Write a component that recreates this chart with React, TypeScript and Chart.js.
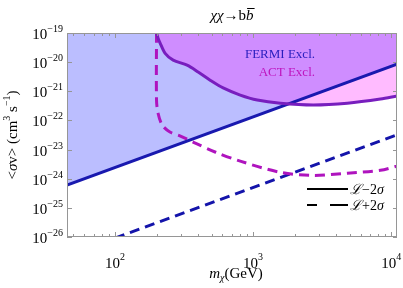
import React, { useEffect, useRef } from 'react';
import { Chart, registerables } from 'chart.js';

Chart.register(...registerables);

// ---- data (mass in GeV, <σv> in cm^3 s^-1) ----
const fermiMass = [45, 11000];
const fermiMinus = [6.0e-25, 8.5e-21];
const fermiPlusMass = [100, 11000];
const fermiPlus = [9.2e-27, 3.2e-23];

const actMass = [200, 205, 212, 231, 264, 333, 400, 489, 607, 807, 1072, 1572, 2728, 4810, 8340, 11000];
const actMinus = [1e-19, 6.8e-20, 4.6e-20, 2.0e-20, 1.17e-20, 7.9e-21, 4.6e-21, 2.4e-21, 1.3e-21, 7.4e-22, 5.0e-22, 3.9e-22, 3.4e-22, 3.9e-22, 5.4e-22, 6.9e-22];

const actPlusMass = [200, 200, 205, 220, 250, 298, 382, 536, 807, 1572, 2728, 4810, 8340, 11000];
const actPlus = [1e-19, 5.0e-22, 1.8e-22, 6.9e-23, 4.0e-23, 2.9e-23, 1.66e-23, 8.1e-24, 4.0e-24, 1.66e-24, 1.3e-24, 1.55e-24, 1.95e-24, 2.7e-24];

const xMajor = [100, 1000, 10000];
const xMajorExp = ['2', '3', '4'];
const yExps = [-26, -25, -24, -23, -22, -21, -20, -19];

const X_MIN = 45;
const X_MAX = 11000;
const Y_MIN = 1e-26;
const Y_MAX = 1e-19;

const SERIF = '"Liberation Serif", "DejaVu Serif", serif';

type Part = { t: string; font: string; dy?: number; color?: string };

function drawRich(ctx: CanvasRenderingContext2D, parts: Part[], x: number, y: number, align: 'left' | 'center' | 'right') {
  let w = 0;
  for (const p of parts) {
    ctx.font = p.font;
    w += ctx.measureText(p.t).width;
  }
  let cx = align === 'left' ? x : align === 'center' ? x - w / 2 : x - w;
  const spans: { x0: number; x1: number }[] = [];
  for (const p of parts) {
    ctx.font = p.font;
    ctx.textAlign = 'left';
    ctx.textBaseline = 'alphabetic';
    const pw = ctx.measureText(p.t).width;
    ctx.fillText(p.t, cx, y + (p.dy || 0));
    spans.push({ x0: cx, x1: cx + pw });
    cx += pw;
  }
  return spans;
}

const decorPlugin = {
  id: 'decor',
  afterDatasetsDraw(chart: any) {
    const ctx: CanvasRenderingContext2D = chart.ctx;
    const { left, right, top, bottom } = chart.chartArea;
    const xs = chart.scales.x;
    const ys = chart.scales.y;
    ctx.save();
    ctx.strokeStyle = 'rgb(150,150,150)';
    ctx.lineWidth = 1;
    ctx.strokeRect(left + 0.5, top + 0.5, right - left - 1, bottom - top - 1);
    // x ticks (bottom & top)
    ctx.beginPath();
    for (let dec = 10; dec <= 10000; dec *= 10) {
      for (let k = 1; k <= 9; k++) {
        const v = dec * k;
        if (v < X_MIN || v > X_MAX) continue;
        const px = Math.round(xs.getPixelForValue(v)) + 0.5;
        const len = k === 1 ? 5 : 3;
        ctx.moveTo(px, bottom);
        ctx.lineTo(px, bottom - len);
        ctx.moveTo(px, top);
        ctx.lineTo(px, top + len);
      }
    }
    for (const e of yExps) {
      const py = Math.round(ys.getPixelForValue(Math.pow(10, e))) + 0.5;
      ctx.moveTo(left, py);
      ctx.lineTo(left + 5, py);
      ctx.moveTo(right, py);
      ctx.lineTo(right - 4, py);
    }
    ctx.stroke();

    ctx.fillStyle = '#000';
    // y tick labels
    for (const e of yExps) {
      const py = ys.getPixelForValue(Math.pow(10, e));
      drawRich(ctx, [
        { t: '10', font: `15px ${SERIF}` },
        { t: '\u2212' + String(-e), font: `10px ${SERIF}`, dy: -7 },
      ], left - 4, py + 6, 'right');
    }
    // x tick labels
    xMajor.forEach((v, i) => {
      const px = xs.getPixelForValue(v);
      drawRich(ctx, [
        { t: '10', font: `15px ${SERIF}` },
        { t: xMajorExp[i], font: `10px ${SERIF}`, dy: -8 },
      ], px, bottom + 31, 'center');
    });
    // x axis title
    drawRich(ctx, [
      { t: 'm', font: `italic 15px ${SERIF}` },
      { t: '\u03c7', font: `italic 10px ${SERIF}`, dy: 3 },
      { t: '(GeV)', font: `15px ${SERIF}` },
    ], (left + right) / 2 + 4, bottom + 41, 'center');
    // y axis title
    ctx.save();
    ctx.translate(17, (top + bottom) / 2);
    ctx.rotate(-Math.PI / 2);
    drawRich(ctx, [
      { t: '<', font: `15px ${SERIF}` },
      { t: '\u03c3', font: `italic 15px ${SERIF}` },
      { t: 'v> (cm', font: `15px ${SERIF}` },
      { t: '3', font: `10px ${SERIF}`, dy: -7 },
      { t: ' s', font: `15px ${SERIF}` },
      { t: '\u22121', font: `10px ${SERIF}`, dy: -7 },
      { t: ')', font: `15px ${SERIF}` },
    ], 0, 0, 'center');
    ctx.restore();
    // title
    const sp = drawRich(ctx, [
      { t: '\u03c7\u03c7', font: `italic 15px ${SERIF}` },
      { t: '\u2192b', font: `15px ${SERIF}` },
      { t: 'b', font: `italic 15px ${SERIF}` },
    ], (left + right) / 2, 20, 'center');
    const bb = sp[2];
    ctx.beginPath();
    ctx.strokeStyle = '#000';
    ctx.lineWidth = 1;
    ctx.moveTo(bb.x0 + 1, 8.5);
    ctx.lineTo(bb.x1 + 1, 8.5);
    ctx.stroke();

    // region labels
    ctx.fillStyle = 'rgb(40,30,190)';
    drawRich(ctx, [{ t: 'FERMI Excl.', font: `13px ${SERIF}` }], 315, 58, 'right');
    ctx.fillStyle = 'rgb(190,20,190)';
    drawRich(ctx, [{ t: 'ACT Excl.', font: `13px ${SERIF}` }], 315, 76, 'right');

    // legend
    ctx.strokeStyle = '#000';
    ctx.lineWidth = 2;
    ctx.beginPath();
    ctx.moveTo(307, 189);
    ctx.lineTo(348, 189);
    ctx.stroke();
    ctx.setLineDash([10, 13, 18, 13]);
    ctx.beginPath();
    ctx.moveTo(307, 205);
    ctx.lineTo(348, 205);
    ctx.stroke();
    ctx.setLineDash([]);
    ctx.fillStyle = '#000';
    drawRich(ctx, [
      { t: '\u2112', font: `italic 14px ${SERIF}` },
      { t: '\u22122', font: `14px ${SERIF}` },
      { t: '\u03c3', font: `italic 14px ${SERIF}` },
    ], 350, 194, 'left');
    drawRich(ctx, [
      { t: '\u2112', font: `italic 14px ${SERIF}` },
      { t: '+2', font: `14px ${SERIF}` },
      { t: '\u03c3', font: `italic 14px ${SERIF}` },
    ], 350, 210, 'left');
    ctx.restore();
  },
};

function pts(xs: number[], ys: number[]) {
  return xs.map((x, i) => ({ x, y: ys[i] }));
}

export default function App() {
  const ref = useRef<HTMLCanvasElement>(null);
  useEffect(() => {
    const canvas = ref.current!;
    const chart = new Chart(canvas, {
      type: 'line',
      data: {
        datasets: [
          {
            data: pts(actMass, actMinus),
            borderColor: 'rgb(120,30,190)',
            backgroundColor: 'rgba(255,30,255,0.3)',
            borderWidth: 3,
            fill: 'end',
            tension: 0.3,
            pointRadius: 0,
            clip: 0,
          } as any,
          {
            data: pts(fermiMass, fermiMinus),
            borderColor: 'rgb(25,25,175)',
            backgroundColor: 'rgb(187,190,255)',
            borderWidth: 3,
            fill: 'end',
            pointRadius: 0,
            clip: 0,
          },
          {
            data: pts(actPlusMass, actPlus),
            borderColor: 'rgb(175,20,190)',
            borderWidth: 3,
            borderDash: [10, 6],
            fill: false,
            tension: 0.3,
            pointRadius: 0,
            clip: 0,
          },
          {
            data: pts(fermiPlusMass, fermiPlus),
            borderColor: 'rgb(20,20,170)',
            borderWidth: 3,
            borderDash: [10, 6],
            fill: false,
            pointRadius: 0,
            clip: 0,
          },
        ],
      },
      options: {
        responsive: false,
        maintainAspectRatio: false,
        animation: false,
        devicePixelRatio: 1,
        layout: { padding: { left: 67, right: 6, top: 33, bottom: 51 } },
        scales: {
          x: { type: 'logarithmic', min: X_MIN, max: X_MAX, display: false },
          y: { type: 'logarithmic', min: Y_MIN, max: Y_MAX, display: false },
        },
        plugins: {
          legend: { display: false },
          tooltip: { enabled: false },
          filler: { drawTime: 'beforeDatasetsDraw' },
        } as any,
      },
      plugins: [decorPlugin],
    });
    return () => chart.destroy();
  }, []);
  return (
    <div style={{ position: 'absolute', left: 0, top: 0, width: 403, height: 288, background: '#fff' }}>
      <canvas ref={ref} width={403} height={288} style={{ display: 'block', width: 403, height: 288 }} />
    </div>
  );
}
